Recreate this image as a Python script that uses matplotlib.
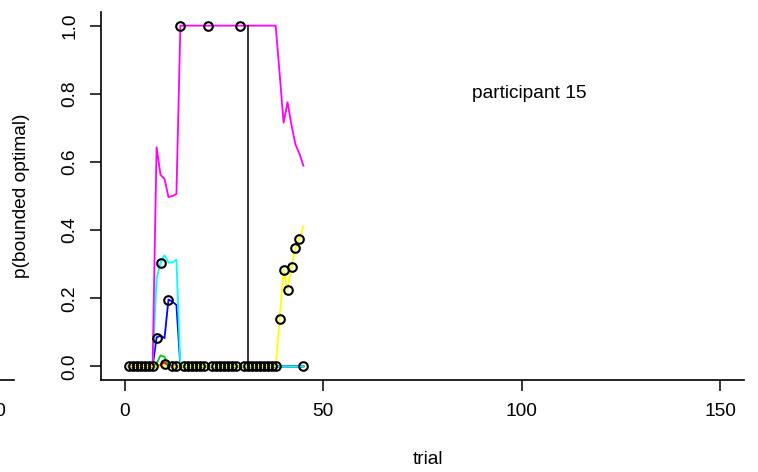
import numpy as np
import matplotlib
matplotlib.use('Agg')
import matplotlib.pyplot as plt

plt.rcParams['font.family'] = ['Liberation Sans', 'DejaVu Sans']
plt.rcParams['font.size'] = 13.8

# trials 1..45, one value per trial and strategy
trial = np.arange(1, 46)

red = np.zeros(45)
red[[8, 9]] = [0.004, 0.012]

green = np.zeros(45)
green[[7, 8, 9]] = [0.008, 0.032, 0.028]

blue = np.zeros(45)
blue[7:13] = [0.085, 0.090, 0.083, 0.196, 0.190, 0.180]

cyan = np.zeros(45)
cyan[7:13] = [0.255, 0.305, 0.326, 0.305, 0.305, 0.313]

magenta = np.zeros(45)
magenta[7:13] = [0.643, 0.562, 0.550, 0.497, 0.500, 0.506]
magenta[13:38] = 1.0
magenta[38:45] = [0.860, 0.715, 0.775, 0.707, 0.651, 0.624, 0.589]

yellow = np.zeros(45)
yellow[38:45] = [0.140, 0.283, 0.226, 0.293, 0.347, 0.376, 0.411]

# probability of the strategy actually chosen on each trial
chosen = np.zeros(45)
chosen[[7, 8, 9, 10]] = [0.082, 0.303, 0.008, 0.196]
chosen[[13, 20, 28]] = 1.0
chosen[38:44] = [0.138, 0.283, 0.225, 0.293, 0.347, 0.374]

switch_trial = 31
participant = 15

series = [(red, 'red'), (green, '#00CD00'), (blue, 'blue'),
          (cyan, 'cyan'), (magenta, 'magenta'), (yellow, 'yellow')]

W, H = 758, 472
fig = plt.figure(figsize=(W / 100, H / 100), dpi=100)

left, right, top, bottom = 101, 744, 12, 380
pos = [left / W, 1 - bottom / H, (right - left) / W, (bottom - top) / H]

def style_axes(a):
    for s in ['top', 'right']:
        a.spines[s].set_visible(False)
    for s in ['left', 'bottom']:
        a.spines[s].set_linewidth(1.2)
    a.set_xlim(-6, 156)
    a.set_ylim(-0.04, 1.04)
    a.set_xticks([0, 50, 100, 150])
    a.tick_params(axis='both', length=7.9, width=1.1, direction='out')
    a.tick_params(axis='x', pad=9)
    a.tick_params(axis='y', pad=8.5)

# fragment of the neighbouring panel on the left
ax0 = fig.add_axes([(14 - (right - left)) / W, pos[1], pos[2], pos[3]])
style_axes(ax0)
ax0.spines['left'].set_visible(False)
ax0.set_yticks([])
ax0.patch.set_visible(False)

ax = fig.add_axes(pos)
style_axes(ax)
ax.set_yticks(np.arange(0, 1.01, 0.2))
ax.set_yticklabels(['%.1f' % v for v in np.arange(0, 1.01, 0.2)],
                   rotation=90, va='center')

for y, c in series:
    ax.plot(trial, y, color=c, lw=1.3, zorder=2)

ax.plot([switch_trial, switch_trial], [0, 1], color='black', lw=1.1, zorder=2)

ax.plot(trial, chosen, 'o', mfc='none', mec='black', ms=6.2, mew=1.5,
        zorder=3)

ax.text(102, 0.80, 'participant %d' % participant, ha='center', va='center')

fig.text(22 / W, 1 - 196 / H, 'p(bounded optimal)', rotation=90,
         ha='center', va='center')
fig.text(428 / W, 1 - 460 / H, 'trial', ha='center', va='center')

fig.savefig('out.png', dpi=100)
